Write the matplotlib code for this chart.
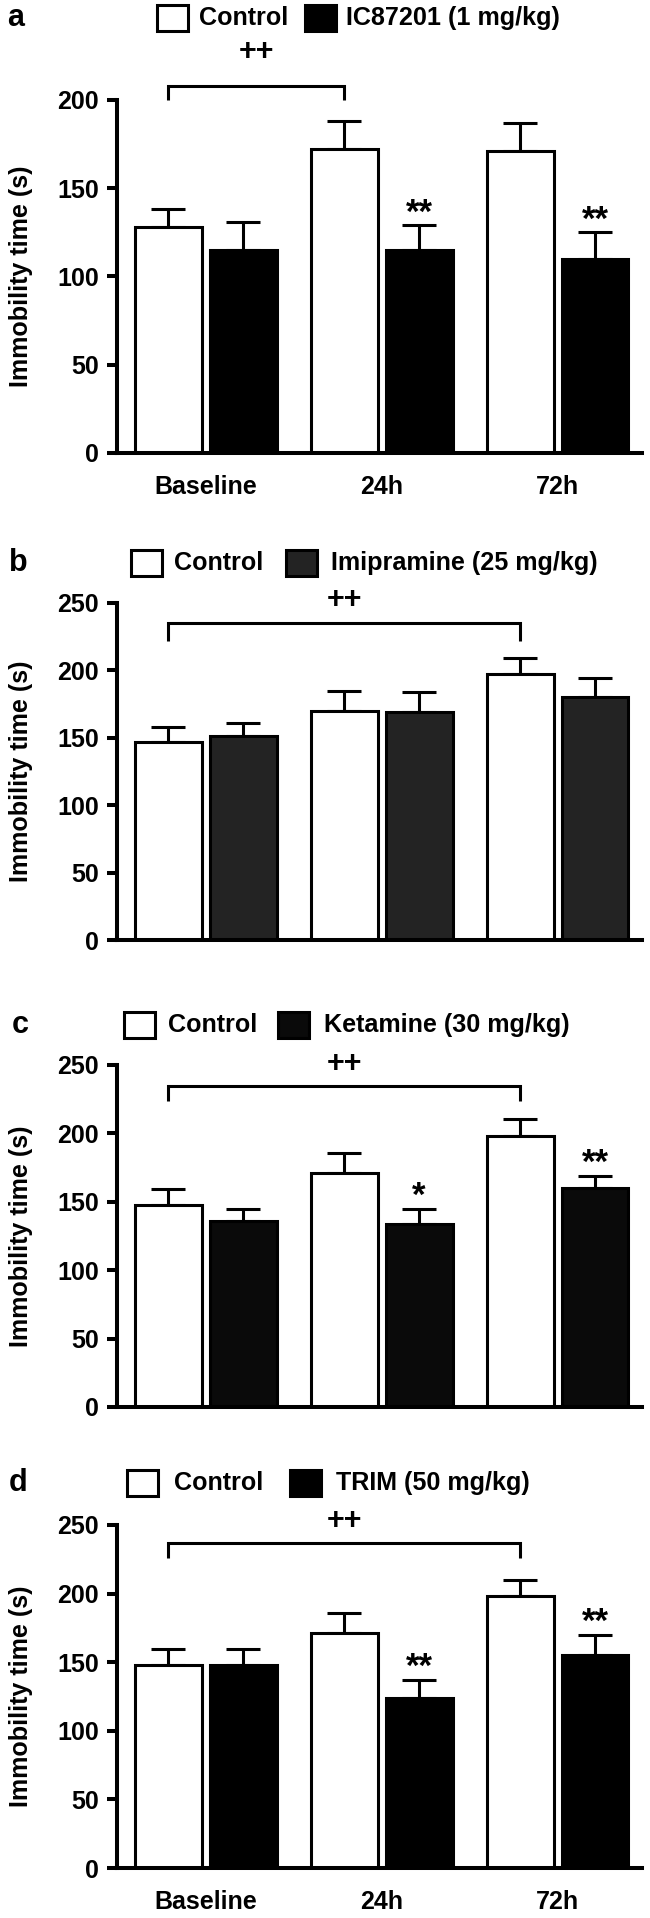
import matplotlib
matplotlib.use('Agg')
import matplotlib.pyplot as plt
from matplotlib.patches import Rectangle
from matplotlib import font_manager
import numpy as np

# ---------------- data ----------------
categories = ['Baseline', '24h', '72h']

a_control = [128, 172, 171]
a_control_err = [10, 16, 16]
a_drug = [115, 115, 110]
a_drug_err = [16, 14, 15]
a_drug_label = 'IC87201 (1 mg/kg)'
a_sig = ['', '**', '**']

b_control = [147, 170, 197]
b_control_err = [11, 15, 12.5]
b_drug = [151, 169, 180]
b_drug_err = [10, 15, 14]
b_drug_label = 'Imipramine (25 mg/kg)'
b_sig = ['', '', '']

c_control = [148, 171, 198]
c_control_err = [11.5, 15, 12.5]
c_drug = [136, 134, 160]
c_drug_err = [8.5, 11, 9]
c_drug_label = 'Ketamine (30 mg/kg)'
c_sig = ['', '*', '**']

d_control = [148, 171, 198]
d_control_err = [11.5, 15, 12]
d_drug = [148, 124, 155]
d_drug_err = [11.5, 13, 15]
d_drug_label = 'TRIM (50 mg/kg)'
d_sig = ['', '**', '**']

control_label = 'Control'
panel_letters = ['a', 'b', 'c', 'd']
bracket_pairs = [(0, 1), (0, 2), (0, 2), (0, 2)]
bracket_text = '++'

# ---------------- fonts ----------------
names = {f.name for f in font_manager.fontManager.ttflist}
REG = 'Liberation Sans' if 'Liberation Sans' in names else 'DejaVu Sans'
NARROW = 'Liberation Sans Narrow' in names
NARROW_FAM = 'Liberation Sans Narrow' if NARROW else REG
nscale = 1.0 if NARROW else 0.86

plt.rcParams['font.family'] = [REG, 'DejaVu Sans']
plt.rcParams['font.weight'] = 'bold'

# ---------------- layout (pixels) ----------------
W, H = 650, 1918
fig = plt.figure(figsize=(W / 100, H / 100), dpi=100)

AX_L, AX_R = 117, 642
layouts = [
    dict(top=100, bottom=453, ymax=200, legend_y=18, letter_x=16, white_x=157, t1_x=199,
         black_x=305, t2_x=346, br_top=208, br_drop=200, pp_y=227, xlabels=True, color='#000000'),
    dict(top=603, bottom=940, ymax=250, legend_y=563, letter_x=18, white_x=131, t1_x=174,
         black_x=286, t2_x=331, br_top=235, br_drop=222, pp_y=252, xlabels=False, color='#232323'),
    dict(top=1065, bottom=1407, ymax=250, legend_y=1025, letter_x=20, white_x=124, t1_x=168,
         black_x=278, t2_x=324, br_top=235, br_drop=224, pp_y=251, xlabels=False, color='#0a0a0a'),
    dict(top=1525, bottom=1868, ymax=250, legend_y=1483, letter_x=18, white_x=127, t1_x=174,
         black_x=290, t2_x=336, br_top=237, br_drop=226, pp_y=253, xlabels=True, color='#000000'),
]

panels = [
    (a_control, a_control_err, a_drug, a_drug_err, a_drug_label, a_sig),
    (b_control, b_control_err, b_drug, b_drug_err, b_drug_label, b_sig),
    (c_control, c_control_err, c_drug, c_drug_err, c_drug_label, c_sig),
    (d_control, d_control_err, d_drug, d_drug_err, d_drug_label, d_sig),
]

# overlay for legends / panel letters in pixel coordinates
ov = fig.add_axes([0, 0, 1, 1], zorder=0)
ov.set_xlim(0, W)
ov.set_ylim(H, 0)
ov.axis('off')

BOX_W, BOX_H = 31, 26
OFF = 0.213
BW = 0.38
LW = 2.2
SPW = 2.9
LEG_FS = 21 * nscale + (0 if NARROW else 0.0)

x = np.arange(len(categories))

for i, (lay, (ctl, ctl_e, drg, drg_e, dlabel, sig)) in enumerate(zip(layouts, panels)):
    ax = fig.add_axes([AX_L / W, 1 - lay['bottom'] / H, (AX_R - AX_L) / W,
                       (lay['bottom'] - lay['top']) / H], zorder=2)
    ax.patch.set_alpha(0)
    ax.bar(x - OFF, ctl, width=BW, color='white', edgecolor='black', linewidth=LW, zorder=2)
    ax.bar(x + OFF, drg, width=BW, color=lay['color'], edgecolor='black', linewidth=LW, zorder=2)
    ax.errorbar(x - OFF, ctl, yerr=[np.zeros(len(ctl)), ctl_e], fmt='none', ecolor='black',
                elinewidth=LW, capsize=12.5, capthick=LW, zorder=1)
    ax.errorbar(x + OFF, drg, yerr=[np.zeros(len(drg)), drg_e], fmt='none', ecolor='black',
                elinewidth=LW, capsize=12.5, capthick=LW, zorder=1)

    for j, s in enumerate(sig):
        if s:
            ax.annotate(s, xy=(x[j] + OFF, drg[j] + drg_e[j]), xytext=(0, 2),
                        textcoords='offset points', ha='center', va='baseline',
                        fontsize=25, fontweight='bold', annotation_clip=False)

    b0, b1 = bracket_pairs[i]
    x0, x1 = x[b0] - OFF, x[b1] - OFF
    ax.plot([x0, x0, x1, x1], [lay['br_drop'], lay['br_top'], lay['br_top'], lay['br_drop']],
            color='black', lw=LW, clip_on=False, solid_capstyle='butt', solid_joinstyle='miter')
    ax.text((x0 + x1) / 2, lay['pp_y'], bracket_text, ha='center', va='center',
            fontsize=22, fontweight='bold', clip_on=False)

    ax.set_xlim(-0.505, 2.48)
    ax.set_ylim(0, lay['ymax'])
    ax.set_yticks(np.arange(0, lay['ymax'] + 1, 50))
    ax.set_xticks(x)
    ax.set_xticklabels(categories if lay['xlabels'] else [''] * len(categories))
    for s in ['top', 'right']:
        ax.spines[s].set_visible(False)
    for s in ['left', 'bottom']:
        ax.spines[s].set_linewidth(SPW)
        ax.spines[s].set_capstyle('projecting')
    ax.tick_params(axis='y', length=7, width=SPW, pad=6, labelsize=18)
    ax.tick_params(axis='x', length=0, pad=16, labelsize=18)
    for lab in ax.get_xticklabels() + ax.get_yticklabels():
        lab.set_fontweight('bold')
    ax.set_ylabel('Immobility time (s)', fontsize=21 * nscale, fontweight='bold',
                  family=[NARROW_FAM, 'DejaVu Sans'])
    ax.yaxis.set_label_coords(-0.16, 0.5)

    # legend row
    ly = lay['legend_y']
    ov.text(lay['letter_x'], ly, panel_letters[i], ha='center', va='center',
            fontsize=22, fontweight='bold')
    ov.add_patch(Rectangle((lay['white_x'], ly - BOX_H / 2), BOX_W, BOX_H,
                           facecolor='white', edgecolor='black', linewidth=LW))
    ov.text(lay['t1_x'], ly, control_label, ha='left', va='center',
            fontsize=LEG_FS, fontweight='bold', family=[NARROW_FAM, 'DejaVu Sans'])
    ov.add_patch(Rectangle((lay['black_x'], ly - BOX_H / 2), BOX_W, BOX_H,
                           facecolor=lay['color'], edgecolor='black', linewidth=LW))
    ov.text(lay['t2_x'], ly, dlabel, ha='left', va='center',
            fontsize=LEG_FS, fontweight='bold', family=[NARROW_FAM, 'DejaVu Sans'])

fig.savefig('out.png', dpi=100)
